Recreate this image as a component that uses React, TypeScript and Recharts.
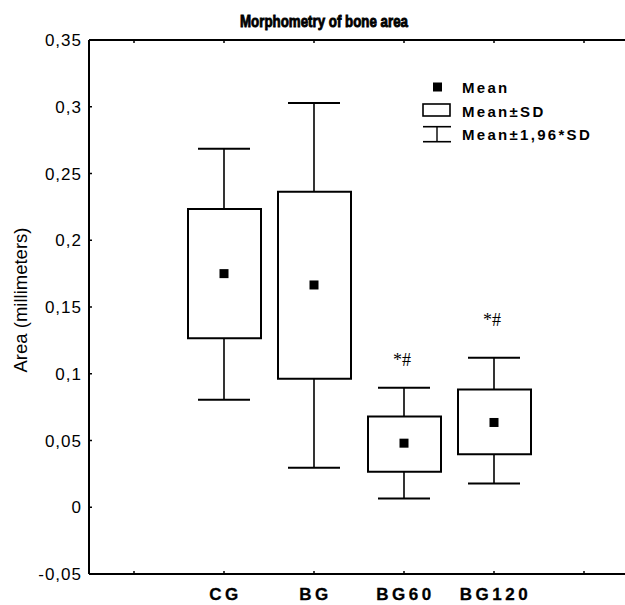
import { ComposedChart, Bar, Scatter, XAxis, YAxis, Legend, Label } from 'recharts';

// group names; blank slots at both ends keep the empty outer bands of the axis
const groups = [' ', 'CG', 'BG', 'BG60', 'BG120', '  '];
const means = [null, 0.175, 0.1665, 0.048, 0.0635, null];
const sdLow = [null, 0.1266, 0.0962, 0.0265, 0.0397, null];
const sdHigh = [null, 0.2234, 0.2364, 0.068, 0.0882, null];
const ciLow = [null, 0.0805, 0.0295, 0.0065, 0.0178, null];
const ciHigh = [null, 0.2685, 0.3028, 0.0895, 0.112, null];
const sigLabels = ['', '', '', '*#', '*#', ''];
const sigAt = [null, null, null, 0.11, 0.14, null];
const yTicks = [-0.05, 0, 0.05, 0.1, 0.15, 0.2, 0.25, 0.3, 0.35];

const data = groups.map((name, i) => ({
  name,
  mean: means[i],
  sd: sdLow[i] == null ? null : [sdLow[i], sdHigh[i]],
  ci: ciLow[i] == null ? null : [ciLow[i], ciHigh[i]],
  sig: sigLabels[i],
  sigAt: sigAt[i],
}));

const sans = '"Liberation Sans", Arial, sans-serif';

const BottomTick = ({ x, y, payload }: any) => (
  <g>
    <line x1={x} x2={x} y1={y} y2={y - 3} stroke="#000" strokeWidth={1.5} />
    <text x={x + 1.5} y={y + 26} textAnchor="middle" fontFamily={sans} fontWeight="bold" fontSize={17} letterSpacing={3.5} stroke="#000" strokeWidth={0.3} fill="#000">
      {String(payload.value).trim()}
    </text>
  </g>
);

const TopTick = ({ x, y }: any) => (
  <line x1={x} x2={x} y1={y} y2={y + 3} stroke="#000" strokeWidth={1.5} />
);

const LeftTick = ({ x, y, payload }: any) => (
  <g>
    <line x1={x} x2={x + 3} y1={y} y2={y} stroke="#000" strokeWidth={1.5} />
    <text x={x - 7} y={y + 6} textAnchor="end" fontFamily={sans} fontSize={17} letterSpacing={1} fill="#000">
      {String(payload.value).replace('.', ',')}
    </text>
  </g>
);

const YLabel = ({ viewBox }: any) => {
  const cx = 20;
  const cy = viewBox.y + viewBox.height / 2 - 7;
  return (
    <text x={cx} y={cy} transform={`rotate(-90 ${cx} ${cy})`} textAnchor="middle" dominantBaseline="central" fontFamily={sans} fontSize={18.5} fill="#000">
      Area (millimeters)
    </text>
  );
};

// whisker = vertical line with a cap on both ends, width comes from the bar
const Whisker = (props: any) => {
  const { x, y, width, height, payload } = props;
  if (payload == null || payload.ci == null) return null;
  const cx = x + width / 2;
  return (
    <g>
      <line x1={cx} x2={cx} y1={y} y2={y + height} stroke="#000" strokeWidth={1.6} />
      <line x1={x} x2={x + width} y1={y} y2={y} stroke="#000" strokeWidth={2} />
      <line x1={x} x2={x + width} y1={y + height} y2={y + height} stroke="#000" strokeWidth={2} />
    </g>
  );
};

const MeanDot = ({ cx, cy, payload }: any) => {
  if (payload?.mean == null || !isFinite(cy)) return null;
  return <rect x={cx - 4.5} y={cy - 4.5} width={9} height={9} fill="#000" />;
};

const SigText = ({ cx, cy, payload }: any) => {
  if (!payload?.sig || !isFinite(cy)) return null;
  return (
    <text x={cx - 2} y={cy + 6} textAnchor="middle" fontFamily='"Liberation Serif", "Times New Roman", serif' fontSize={18} fill="#000">
      {payload.sig}
    </text>
  );
};

const legendText = { fontFamily: sans, fontWeight: 'bold' as const, fontSize: 15, letterSpacing: 2.3 };

const renderLegend = () => (
  <svg width={200} height={70}>
    <rect x={13} y={4.5} width={9} height={9} fill="#000" />
    <text x={42} y={15} {...legendText}>Mean</text>
    <rect x={3} y={26} width={27} height={12} fill="#fff" stroke="#000" strokeWidth={1.6} />
    <text x={42} y={38.5} {...legendText}>Mean±SD</text>
    <line x1={3} x2={31} y1={48.7} y2={48.7} stroke="#000" strokeWidth={1.6} />
    <line x1={17} x2={17} y1={48.7} y2={63.7} stroke="#000" strokeWidth={1.4} />
    <line x1={3} x2={31} y1={63.7} y2={63.7} stroke="#000" strokeWidth={1.6} />
    <text x={42} y={61.5} {...legendText}>Mean±1,96*SD</text>
  </svg>
);

export default function App() {
  return (
    <div style={{ position: 'absolute', left: 0, top: 0, width: 625, height: 605, overflow: 'hidden', background: '#fff' }}>
      <svg width={625} height={40} style={{ position: 'absolute', left: 0, top: 0 }}>
        <text x={240} y={26.5} textLength={168} lengthAdjust="spacingAndGlyphs" fontFamily={sans} fontWeight="bold" fontSize={17} stroke="#000" strokeWidth={0.9} fill="#000">
          Morphometry of bone area
        </text>
      </svg>
      <ComposedChart width={640} height={605} data={data} margin={{ top: 39, right: 11, bottom: 30, left: 88 }}>
        <XAxis
          xAxisId="box"
          dataKey="name"
          height={1}
          tickSize={0}
          tickMargin={0}
          interval={0}
          axisLine={{ stroke: '#000', strokeWidth: 2 }}
          tickLine={false}
          tick={<BottomTick />}
        />
        <XAxis xAxisId="whisk" dataKey="name" hide />
        <XAxis
          xAxisId="top"
          dataKey="name"
          orientation="top"
          height={1}
          tickSize={0}
          tickMargin={0}
          interval={0}
          axisLine={{ stroke: '#000', strokeWidth: 2 }}
          tickLine={false}
          tick={<TopTick />}
        />
        <YAxis
          type="number"
          domain={[-0.05, 0.35]}
          ticks={yTicks}
          interval={0}
          width={1}
          tickSize={0}
          tickMargin={0}
          allowDataOverflow
          axisLine={{ stroke: '#000', strokeWidth: 2 }}
          tickLine={false}
          tick={<LeftTick />}
        >
          <Label content={<YLabel />} />
        </YAxis>
        <Legend
          layout="vertical"
          align="center"
          verticalAlign="middle"
          content={renderLegend}
          wrapperStyle={{ left: 420, top: 78, width: 200, height: 70 }}
        />
        <Bar xAxisId="whisk" dataKey="ci" barSize={52} shape={<Whisker />} isAnimationActive={false} />
        <Bar xAxisId="box" dataKey="sd" barSize={73} fill="#fff" stroke="#000" strokeWidth={2} isAnimationActive={false} />
        <Scatter xAxisId="box" dataKey="mean" shape={<MeanDot />} isAnimationActive={false} />
        <Scatter xAxisId="box" dataKey="sigAt" shape={<SigText />} isAnimationActive={false} />
      </ComposedChart>
    </div>
  );
}
